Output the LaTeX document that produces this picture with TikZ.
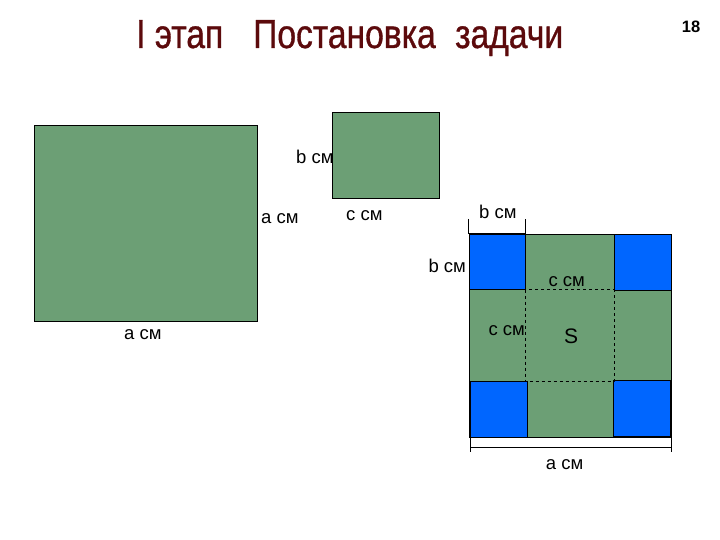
\documentclass[tikz,border=0pt]{standalone}
\usepackage{fontspec}
\setmainfont{Liberation Sans}
\newfontfamily\titlefont[FakeStretch=0.83,FakeBold=0.8]{Liberation Sans}
\definecolor{sqgreen}{RGB}{108,159,117}
\definecolor{sqblue}{RGB}{0,102,255}
\definecolor{titlered}{RGB}{92,10,12}
\tikzset{
  greensq/.style={fill=sqgreen,draw=black,line width=0.9pt},
  bluesq/.style={fill=sqblue,draw=black,line width=0.9pt},
  lbl/.style={inner sep=0pt,anchor=base west,font=\fontsize{18.5}{20}\selectfont},
  titletext/.style={inner sep=0pt,anchor=base west,text=titlered,font=\titlefont\fontsize{40.5}{42}\selectfont},
  dimline/.style={draw=black,line width=0.8pt},
}
\begin{document}
\begin{tikzpicture}[x=1pt,y=-1pt]
\useasboundingbox (0,0) rectangle (720,540);
\fill[white] (0,0) rectangle (720,540);
% title
\node[titletext] (title1) at (136,48) {I этап};
\node[titletext] (title2) at (253,48) {Постановка};
\node[titletext] (title3) at (455,48) {задачи};
\node[inner sep=0pt,anchor=base,font=\bfseries\fontsize{16.5}{18}\selectfont] (pnum) at (691,33) {18};
% big square
\path[greensq] (34,125) rectangle (257,321);
\node[lbl] (la1) at (261,224) {a см};
\node[lbl] (la2) at (124,339.3) {a см};
% small square
\path[greensq] (332,112) rectangle (439,198);
\node[lbl] (lb1) at (296,163.3) {b см};
\node[lbl] (lc1) at (346,220.7) {c см};
% composite square
\path[greensq] (469,234) rectangle (671.5,437.3);
\path[bluesq] (469,234) rectangle (525,289.5);
\path[bluesq] (614,234) rectangle (671.5,290);
\path[bluesq] (470,381) rectangle (527,437.3);
\path[bluesq] (613,380) rectangle (670,436.7);
\draw[dashed,line width=0.7pt] (525,289.5) rectangle (614,381);
% dimension lines
\coordinate (t1) at (468,219);
\coordinate (t2) at (525,219);
\coordinate (t3) at (468,233);
\coordinate (t4) at (525,233);
\draw[dimline] (t1) -- (t3) -- (t4) -- (t2);
\coordinate (d1) at (470,438);
\coordinate (d2) at (470,452);
\coordinate (d3) at (671.5,438);
\coordinate (d4) at (671.5,452);
\coordinate (d5) at (470,447.3);
\coordinate (d6) at (671.5,447.3);
\draw[dimline] (d1) -- (d2) (d3) -- (d4) (d5) -- (d6);
\node[lbl] (lb2) at (479,218.3) {b см};
\node[lbl] (lb3) at (428.3,272.7) {b см};
\node[lbl] (lc2) at (548.3,286) {c см};
\node[lbl] (lc3) at (488.3,335.7) {c см};
\node[inner sep=0pt,anchor=base west,font=\fontsize{21}{23}\selectfont] (ls) at (564,343.3) {S};
\node[lbl] (la3) at (545.7,469) {a см};
\end{tikzpicture}
\end{document}
